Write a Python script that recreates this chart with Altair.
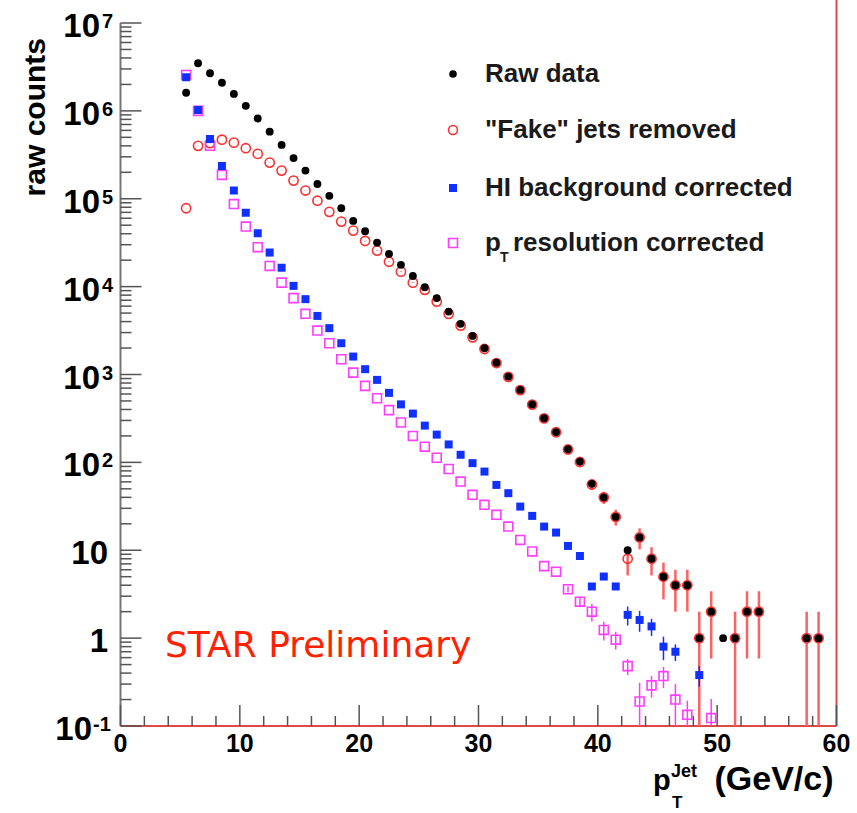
import math
import altair as alt
import pandas as pd

# ---------------- data (bin centres, GeV/c) ----------------
pt_raw = [5.5 + i for i in range(54)]          # 5.5 ... 58.5
raw_counts = [1.61e6, 3.48e6, 2.68e6, 2.09e6, 1.56e6, 1.14e6, 8.2e5, 5.8e5, 4.1e5, 2.9e5,
              2.09e5, 1.47e5, 1.08e5, 7.8e4, 5.6e4, 4.27e4, 3.17e4, 2.36e4, 1.77e4, 1.32e4,
              9850, 7400, 5200, 3770, 2750, 1990, 1360, 946, 668, 457,
              318, 221, 141, 102, 57, 40, 24, 10, 14, 8,
              5, 4, 4, 1, 2, 1, 1, 2, 2, None,
              None, None, 1, 1]
fake_removed = [7.8e4, 4.0e5, 4.3e5, 4.7e5, 4.35e5, 3.76e5, 3.24e5, 2.58e5, 2.09e5, 1.61e5,
                1.24e5, 9.5e4, 7.1e4, 5.5e4, 4.34e4, 3.31e4, 2.57e4, 1.92e4, 1.48e4, 1.11e4,
                9200, 6750, 4900, 3600, 2650, 1950, 1350, 940, 665, 455,
                317, 220, 140, 101, 56, 40, 24, 8, 14, 8,
                5, 4, 4, 1, 2, None, 1, 2, 2, None,
                None, None, 1, 1]

pt_hi = [5.5 + i for i in range(44)]           # 5.5 ... 48.5
hi_corrected = [2.41e6, 1.02e6, 4.79e5, 2.36e5, 1.24e5, 6.95e4, 4.05e4, 2.44e4, 1.64e4, 1.02e4,
                7200, 4640, 3370, 2270, 1600, 1150, 868, 618, 457, 359,
                262, 207, 160, 122, 98, 78.6, 55.4, 44.6, 31.4, 24.6,
                18.6, 15.9, 11.2, 8.6, 3.87, 5.02, 3.87, 1.84, 1.61, 1.36,
                0.80, 0.70, None, 0.38]
hi_err = [0, 0, 0, 0, 0, 0, 0, 0, 0, 0,
          0, 0, 0, 0, 0, 0, 0, 0, 0, 0,
          0, 0, 0, 0, 0, 0, 0, 0, 0, 0,
          0, 0, 0, 0.4, 0.35, 0.35, 0.35, 0.45, 0.43, 0.3,
          0.24, 0.15, 0, 0.1]

pt_res = [5.5 + i for i in range(45)]          # 5.5 ... 49.5
res_corrected = [2.56e6, 1.0e6, 4.0e5, 1.87e5, 8.7e4, 4.82e4, 2.81e4, 1.72e4, 1.11e4, 7400,
                 4900, 3160, 2270, 1490, 1050, 742, 537, 393, 284, 200,
                 151, 113, 84, 60.5, 42.7, 32.9, 25.3, 18.6, 13.1, 9.7,
                 6.6, 5.7, 3.6, 2.6, 2.0, 1.24, 0.96, 0.48, 0.19, 0.29,
                 0.37, 0.20, 0.134, None, 0.123]
res_err = [0, 0, 0, 0, 0, 0, 0, 0, 0, 0,
           0, 0, 0, 0, 0, 0, 0, 0, 0, 0,
           0, 0, 0, 0, 0, 0, 0, 0, 0, 0,
           0, 0, 0.3, 0.35, 0.45, 0.3, 0.22, 0.1, 0.12, 0.08,
           0.1, 0.1, 0.06, 0, 0.08]

x_major = [0, 10, 20, 30, 40, 50, 60]
x_minor = [v for v in range(2, 60, 2) if v % 10]
y_major = [10.0 ** k for k in range(-1, 8)]
y_minor = [m * 10.0 ** k for k in range(-1, 7) for m in range(2, 10)]

ylab_sup_vals = [1e7, 1e6, 1e5, 1e4, 1e3, 1e2]
ylab_sup_exp = ["7", "6", "5", "4", "3", "2"]
ylab_plain_vals = [10, 1]
ylab_plain_text = ["10", "1"]

legend_labels = ["Raw data", "\"Fake\" jets removed", "HI background corrected", "p", "T", "resolution corrected"]

# ---------------- geometry / style ----------------
W, H = 716, 703
FONT = "Liberation Sans"
C_BLACK = "#000000"
C_RED = "#ff3030"
C_REDERR = "#ff6060"
C_BLUE = "#1030ff"
C_MAG = "#ff3dff"
C_TICK = "#555555"

x_scale = alt.Scale(domain=[0, 60], nice=False, zero=False)
y_scale = alt.Scale(type="log", domain=[0.1, 1e7], nice=False)


def X(f="x"):
    return alt.X(f"{f}:Q", scale=x_scale, axis=None)


def Y(f="y"):
    return alt.Y(f"{f}:Q", scale=y_scale, axis=None)


def make_df(xs, ys, errs=None):
    rows = []
    for i, (x, y) in enumerate(zip(xs, ys)):
        if y is None:
            continue
        e = errs[i] if errs is not None else 0.0
        rows.append(dict(x=x, y=y, e=e, lo=max(y - e, 0.02), hi=y + e))
    return pd.DataFrame(rows)


raw_df = make_df(pt_raw, raw_counts)
fake_df = make_df(pt_raw, fake_removed, [math.sqrt(v) if v else 0 for v in fake_removed])
hi_df = make_df(pt_hi, hi_corrected, hi_err)
res_df = make_df(pt_res, res_corrected, res_err)

one = pd.DataFrame({"a": [0]})


def txt(text, x, y, size, **kw):
    props = dict(font=FONT, fontSize=size, fontWeight="bold", color="black")
    props.update(kw)
    return alt.Chart(one).mark_text(text=text, **props).encode(x=alt.value(x), y=alt.value(y))


layers = []

# frame lines
layers.append(alt.Chart(one).mark_rule(color="#777777", strokeWidth=2).encode(
    x=alt.value(0), y=alt.value(0), y2=alt.value(H)))
layers.append(alt.Chart(one).mark_rule(color="#e04848", strokeWidth=2).encode(
    x=alt.value(0), x2=alt.value(W), y=alt.value(H)))
layers.append(alt.Chart(one).mark_rule(color="#e04848", strokeWidth=2).encode(
    x=alt.value(W), y=alt.value(-23), y2=alt.value(H)))

# inward ticks
layers.append(alt.Chart(pd.DataFrame({"x": x_major})).mark_rule(color=C_TICK, strokeWidth=1.5).encode(
    x=X(), y=alt.value(H), y2=alt.value(H - 21)))
layers.append(alt.Chart(pd.DataFrame({"x": x_minor})).mark_rule(color=C_TICK, strokeWidth=1.5).encode(
    x=X(), y=alt.value(H), y2=alt.value(H - 10)))
layers.append(alt.Chart(pd.DataFrame({"y": y_major})).mark_rule(color=C_TICK, strokeWidth=1.5).encode(
    y=Y(), x=alt.value(0), x2=alt.value(21)))
layers.append(alt.Chart(pd.DataFrame({"y": y_minor})).mark_rule(color=C_TICK, strokeWidth=1.5).encode(
    y=Y(), x=alt.value(0), x2=alt.value(11)))

# x tick labels
layers.append(alt.Chart(pd.DataFrame({"x": x_major, "t": [str(v) for v in x_major]})).mark_text(
    font=FONT, fontSize=25, fontWeight="bold", baseline="alphabetic", align="center", color="black").encode(
    x=X(), y=alt.value(H + 26), text="t:N"))

# y tick labels with superscripts
sup_df = pd.DataFrame({"y": ylab_sup_vals, "b": ["10"] * len(ylab_sup_vals), "e": ylab_sup_exp})
layers.append(alt.Chart(sup_df).mark_text(
    font=FONT, fontSize=33, fontWeight="bold", baseline="alphabetic", align="right", dy=14, color="black").encode(
    y=Y(), x=alt.value(-20.5), text="b:N"))
layers.append(alt.Chart(sup_df).mark_text(
    font=FONT, fontSize=20, fontWeight="bold", baseline="alphabetic", align="left", dy=5, color="black").encode(
    y=Y(), x=alt.value(-18.5), text="e:N"))
plain_df = pd.DataFrame({"y": ylab_plain_vals, "t": ylab_plain_text})
layers.append(alt.Chart(plain_df).mark_text(
    font=FONT, fontSize=33, fontWeight="bold", baseline="alphabetic", align="right", dy=14, color="black").encode(
    y=Y(), x=alt.value(-12.5), text="t:N"))
m1_df = pd.DataFrame({"y": [0.1], "b": ["10"], "e": ["-1"]})
layers.append(alt.Chart(m1_df).mark_text(
    font=FONT, fontSize=33, fontWeight="bold", baseline="alphabetic", align="right", dy=14, color="black").encode(
    y=Y(), x=alt.value(-28.5), text="b:N"))
layers.append(alt.Chart(m1_df).mark_text(
    font=FONT, fontSize=20, fontWeight="bold", baseline="alphabetic", align="left", dy=5, color="black").encode(
    y=Y(), x=alt.value(-27.5), text="e:N"))

# axis titles
layers.append(txt("raw counts", -75.5, 15, 30, angle=270, align="right", baseline="alphabetic"))
layers.append(txt("p", 532.5, 767, 29, align="left", baseline="alphabetic"))
layers.append(txt("Jet", 550.5, 754, 18, align="left", baseline="alphabetic"))
layers.append(txt("T", 551.5, 785, 17, align="left", baseline="alphabetic"))
layers.append(txt("(GeV/c)", 713, 767, 34, align="right", baseline="alphabetic"))

# data: red (fake removed)
fake_err = fake_df[fake_df["e"] > 0]
layers.append(alt.Chart(fake_err).mark_rule(color=C_REDERR, strokeWidth=2.5, clip=True).encode(
    x=X(), y=Y("lo"), y2="hi:Q"))
layers.append(alt.Chart(fake_df).mark_point(shape="circle", filled=False, color=C_RED, size=85,
                                            strokeWidth=1.6, opacity=1, clip=True).encode(x=X(), y=Y()))
# black (raw)
layers.append(alt.Chart(raw_df).mark_circle(color=C_BLACK, size=62, opacity=1, clip=True).encode(x=X(), y=Y()))
# magenta (pT resolution corrected)
res_e = res_df[res_df["e"] > 0]
layers.append(alt.Chart(res_e).mark_rule(color=C_MAG, strokeWidth=1.5, clip=True).encode(
    x=X(), y=Y("lo"), y2="hi:Q"))
layers.append(alt.Chart(res_df).mark_point(shape="square", filled=False, color=C_MAG, size=80,
                                           strokeWidth=1.6, opacity=1, clip=True).encode(x=X(), y=Y()))
# blue (HI background corrected)
hi_e = hi_df[hi_df["e"] > 0]
layers.append(alt.Chart(hi_e).mark_rule(color=C_BLUE, strokeWidth=1.5, clip=True).encode(
    x=X(), y=Y("lo"), y2="hi:Q"))
layers.append(alt.Chart(hi_df).mark_square(color=C_BLUE, size=64, opacity=1, clip=True).encode(x=X(), y=Y()))

# legend
LX, TX = 332.5, 364.5
rows_y = [51, 107, 165, 220]
LFS = 26
layers.append(alt.Chart(one).mark_circle(color=C_BLACK, size=58, opacity=1).encode(
    x=alt.value(LX), y=alt.value(rows_y[0])))
layers.append(alt.Chart(one).mark_point(shape="circle", filled=False, color=C_RED, size=80, strokeWidth=1.6,
                                        opacity=1).encode(x=alt.value(LX), y=alt.value(rows_y[1])))
layers.append(alt.Chart(one).mark_square(color=C_BLUE, size=64, opacity=1).encode(
    x=alt.value(LX), y=alt.value(rows_y[2])))
layers.append(alt.Chart(one).mark_point(shape="square", filled=False, color=C_MAG, size=80, strokeWidth=1.6,
                                        opacity=1).encode(x=alt.value(LX), y=alt.value(rows_y[3])))
layers.append(txt(legend_labels[0], TX, rows_y[0], LFS, align="left", baseline="middle", color="#1a1a1a"))
layers.append(txt(legend_labels[1], TX, rows_y[1], LFS, align="left", baseline="middle", color="#1a1a1a"))
layers.append(txt(legend_labels[2], TX, rows_y[2], LFS, align="left", baseline="middle", color="#1a1a1a"))
layers.append(txt(legend_labels[3], TX, rows_y[3], LFS, align="left", baseline="middle", color="#1a1a1a"))
layers.append(txt(legend_labels[4], TX + 15, rows_y[3] + 15, 14, align="left", baseline="middle", color="#1a1a1a"))
layers.append(txt(legend_labels[5], TX + 28, rows_y[3], LFS, align="left", baseline="middle", color="#1a1a1a"))

# STAR Preliminary
layers.append(txt("STAR Preliminary", 44.5, 634, 36, font="DejaVu Sans", fontWeight="normal",
                  color="#ff2200", align="left", baseline="alphabetic"))

chart = alt.layer(*layers).properties(
    width=W, height=H,
    padding={"left": 120.5, "top": 23, "right": 20.5, "bottom": 87},
    autosize=alt.AutoSizeParams(type="none"),
    background="white",
).configure_view(stroke=None)

chart.save("out.html", embed_options={"renderer": "svg", "actions": False})
